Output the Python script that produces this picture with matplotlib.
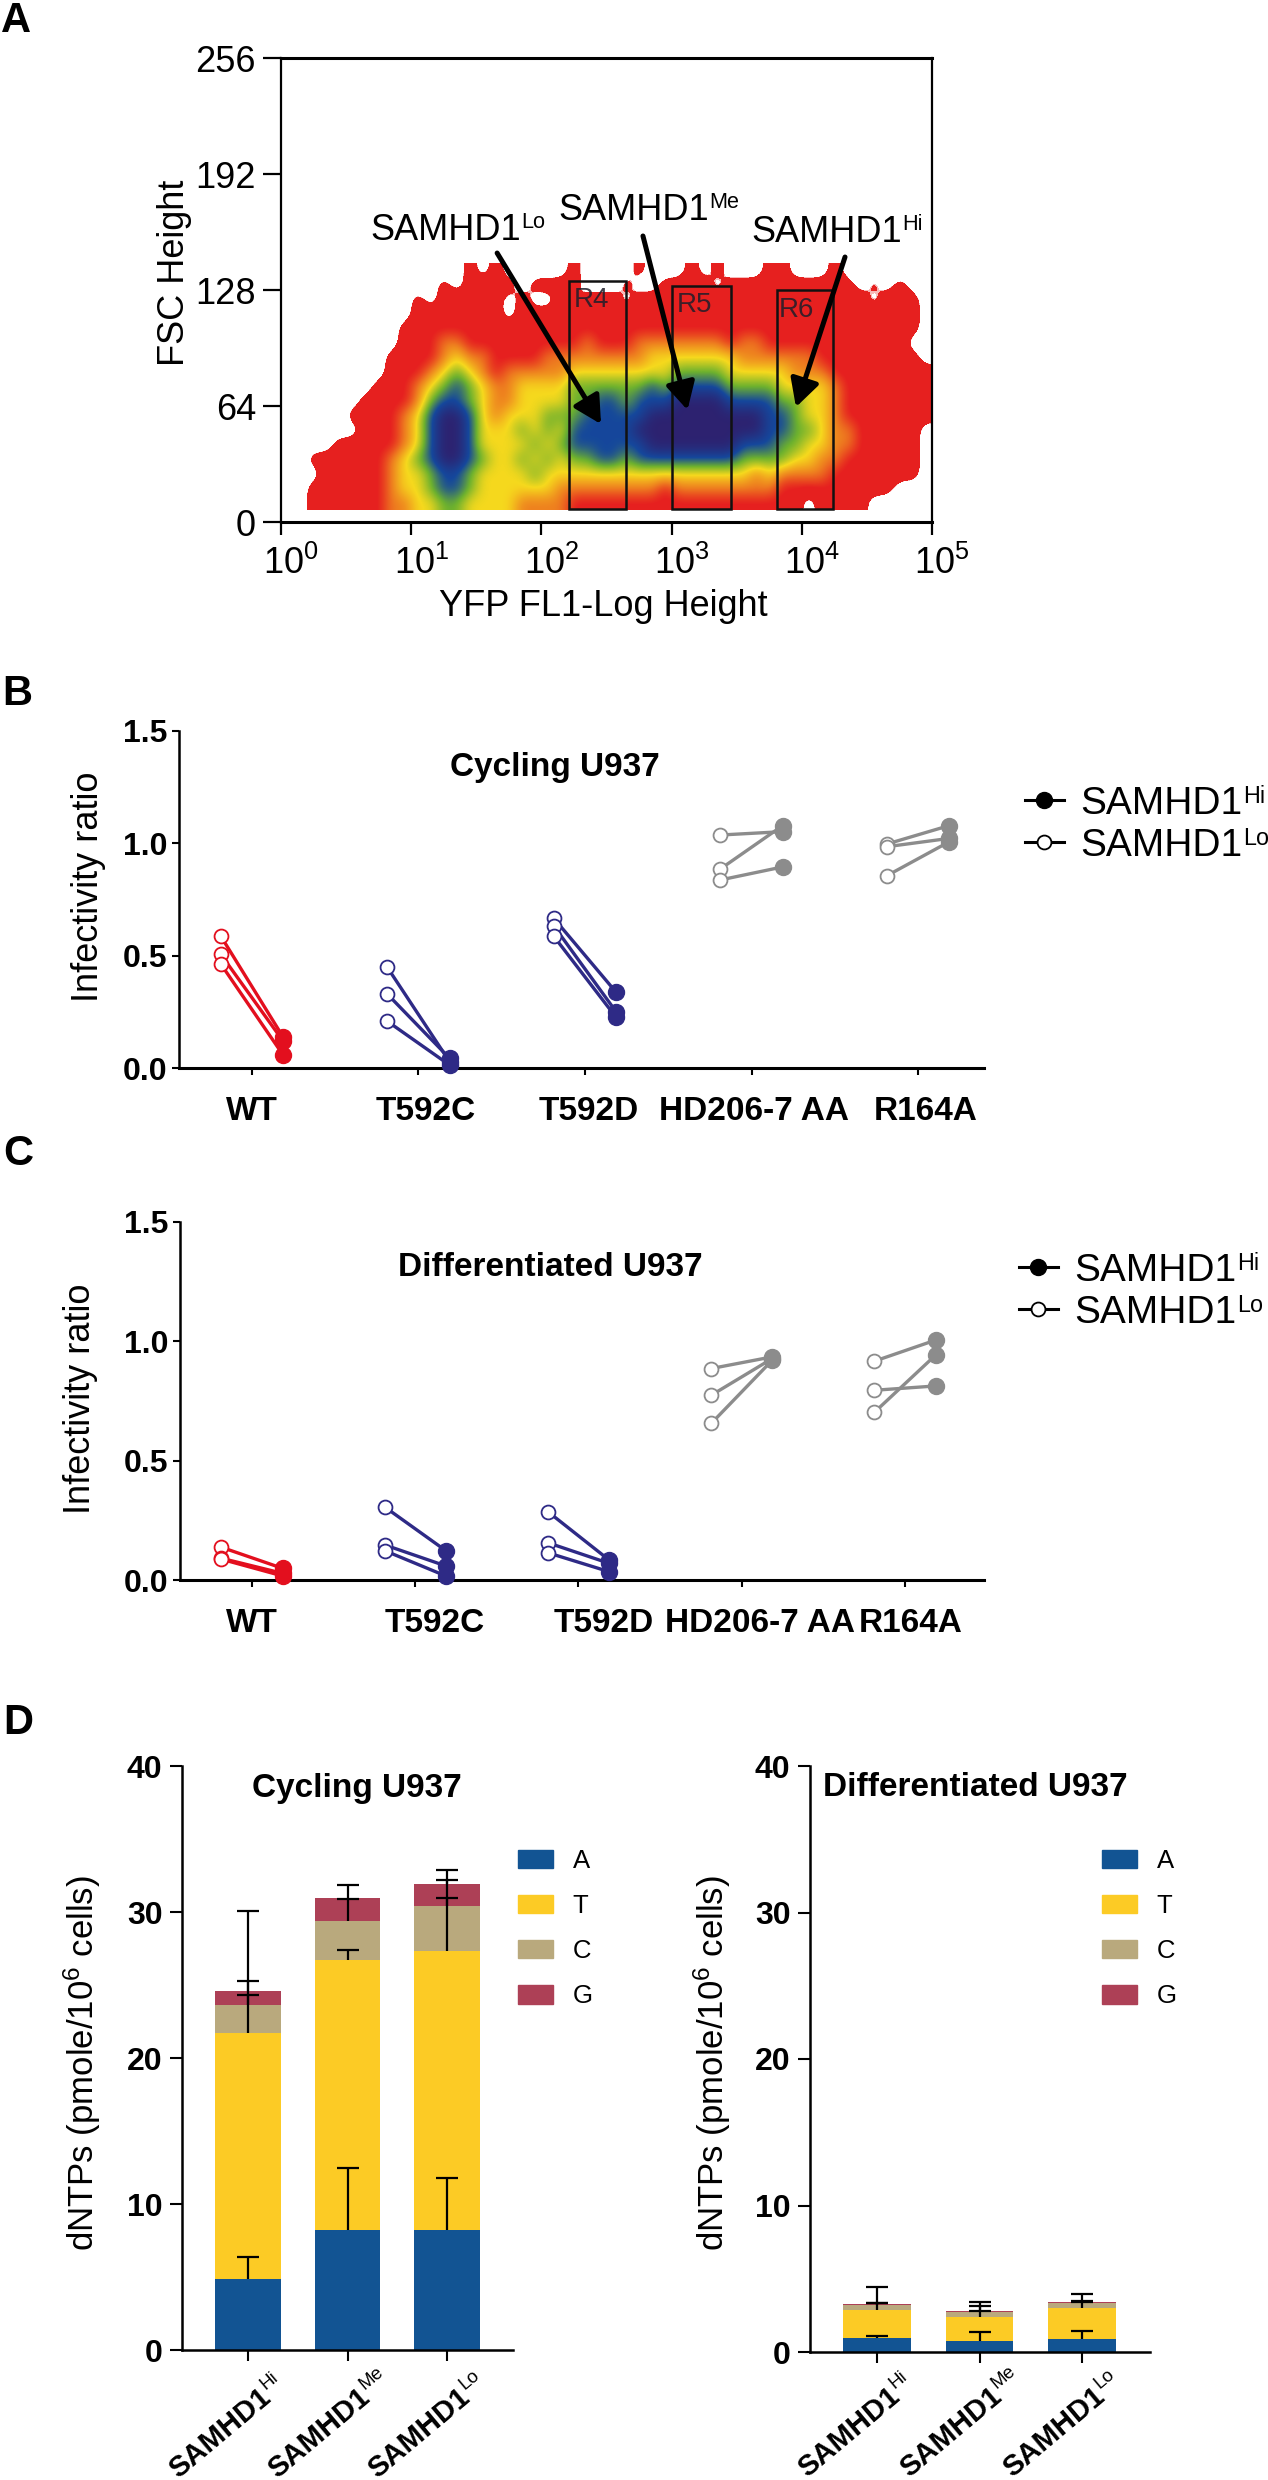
import numpy as np
import matplotlib

matplotlib.use("Agg")
import matplotlib.pyplot as plt
from matplotlib.colors import LinearSegmentedColormap
from matplotlib.lines import Line2D
from matplotlib.patches import Patch, Rectangle
from matplotlib.transforms import ScaledTranslation

W, H = 1268, 2480

plt.rcParams["font.family"] = ["Liberation Sans", "DejaVu Sans"]
plt.rcParams["mathtext.fontset"] = "custom"
plt.rcParams["mathtext.rm"] = "Liberation Sans"
plt.rcParams["mathtext.it"] = "Liberation Sans:italic"
plt.rcParams["mathtext.bf"] = "Liberation Sans:bold"

# panel A: density level per cell, read off by eye (0 empty .. 6 densest)
# columns are 0.1 decade wide, rows 8 FSC units tall, top row first
density_rows = [
    "0000000000000010100000100" "0010001010001100010000000",
    "0000000000001011110111100" "0100111101111111111010100",
    "0000000000101111101001011" "1011111111111111111101110",
    "0000000000111111101111111" "1111111111111111111111110",
    "0000000001111111111111111" "1111111111111111111111110",
    "0000000001112211111111121" "1122222221221111111111100",
    "0000000011112322111122222" "2223333333222222111111110",
    "0000000011123432122222333" "3333344443333322211111111",
    "0000000111234543223333444" "4445455554444333321111111",
    "0000001111245543223333445" "5455566665555443321111111",
    "0000011112356653233344455" "5556666666665543321111111",
    "0000001112356653334343555" "5566666666665544322111110",
    "0000111112356653333434555" "5556666666555443322111110",
    "0011111123456654334343445" "5455555555444433221111110",
    "0001111123345543333433333" "3333333333323222211111110",
    "0011111123345543333332222" "2222122222222111111111000",
    "0011111122334433332222111" "1111111111111110111100000",
]
density_fsc_bottom = 6.6
density_fsc_step = 8
gates = [("R4", 2.215, 2.646, 133), ("R5", 3.0, 3.455, 130), ("R6", 3.81, 4.24, 128)]
gate_bottom = 7
gate_labels = [(2.245, 122.5), (3.04, 120), (3.825, 117)]
fsc_ticks = [0, 64, 128, 192, 256]
yfp_ticks = [0, 1, 2, 3, 4, 5]

# panels B and C
mutants = ["WT", "T592C", "T592D", "HD206-7 AA", "R164A"]
mutant_colors = ["#E30F1E", "#2E2A86", "#2E2A86", "#8C8C8C", "#8C8C8C"]
cycling_lo = [
    [0.587, 0.506, 0.463],
    [0.448, 0.329, 0.208],
    [0.666, 0.632, 0.586],
    [1.037, 0.886, 0.837],
    [0.997, 0.985, 0.856],
]
cycling_hi = [
    [0.138, 0.120, 0.058],
    [0.028, 0.043, 0.013],
    [0.337, 0.250, 0.225],
    [1.052, 1.079, 0.895],
    [1.079, 1.022, 1.007],
]
diff_lo = [
    [0.137, 0.091, 0.087],
    [0.306, 0.147, 0.123],
    [0.286, 0.156, 0.114],
    [0.886, 0.774, 0.656],
    [0.917, 0.795, 0.703],
]
diff_hi = [
    [0.049, 0.028, 0.017],
    [0.123, 0.059, 0.017],
    [0.084, 0.070, 0.035],
    [0.935, 0.928, 0.921],
    [1.005, 0.813, 0.942],
]

# panel D
samhd1_groups = ["Hi", "Me", "Lo"]
dntp_names = ["A", "T", "C", "G"]
dntp_colors = ["#125493", "#FCCB25", "#B9A97D", "#AD4056"]
cycling_dntp = [[4.87, 8.25, 8.20], [16.87, 18.43, 19.10], [1.86, 2.69, 3.10], [1.0, 1.57, 1.50]]
cycling_err_top = [[6.34, 12.44, 11.80], [24.30, 27.40, 30.94], [30.10, 30.87, 32.20], [25.25, 31.86, 32.90]]
diff_dntp = [[0.98, 0.78, 0.92], [1.91, 1.63, 2.07], [0.30, 0.34, 0.34], [0.07, 0.07, 0.07]]
diff_err_top = [[1.12, 1.39, 1.46], [3.33, 2.82, 3.43], [4.45, 3.12, 3.45], [3.35, 3.43, 3.94]]


def px_axes(fig, left, top, right, bottom):
    return fig.add_axes([left / W, 1 - bottom / H, (right - left) / W, (bottom - top) / H])


def fig_text(fig, x, y, s, **kwargs):
    kwargs.setdefault("va", "center")
    return fig.text(x / W, 1 - y / H, s, **kwargs)


def add_sup(fig, base, sup, ratio=0.6):
    bb = base.get_window_extent(fig.canvas.get_renderer())
    fig.text((bb.x1 + 1) / W, (bb.y1 + 1) / H, sup, va="top", ha="left", fontsize=base.get_fontsize() * ratio)


def nudge_labels(fig, labels, offsets):
    for lab, dx in zip(labels, offsets):
        shift = ScaledTranslation(dx / fig.dpi, 0, fig.dpi_scale_trans)
        lab.set_transform(lab.get_transform() + shift)


def draw_density(fig):
    ax = px_axes(fig, 281, 58, 932, 522)
    grid = np.array([[int(c) for c in row] for row in density_rows], dtype=float)
    cmap = LinearSegmentedColormap.from_list(
        "facs",
        [
            (0.0, "#FFFFFF"),
            (0.49 / 6, "#FFFFFF"),
            (0.5 / 6, "#E6201F"),
            (1.1 / 6, "#E6201F"),
            (2 / 6, "#EE7F1F"),
            (3 / 6, "#F6D91D"),
            (4 / 6, "#6DB12E"),
            (5 / 6, "#15479C"),
            (1.0, "#2D2270"),
        ],
        N=512,
    )
    top = density_fsc_bottom + density_fsc_step * len(density_rows)
    ax.imshow(grid, cmap=cmap, vmin=0, vmax=6, aspect="auto", interpolation="bicubic",
              extent=(0, 5, density_fsc_bottom, top), zorder=1)
    ax.set_xlim(0, 5)
    ax.set_ylim(0, 256)

    for (name, x0, x1, fsc_top), (tx, ty) in zip(gates, gate_labels):
        ax.add_patch(Rectangle((x0, gate_bottom), x1 - x0, fsc_top - gate_bottom, fill=False,
                               edgecolor="#111111", linewidth=1.8, zorder=3))
        ax.text(tx, ty, name, fontsize=20, color="#1E1E2A", va="center", alpha=0.85, zorder=3)

    ax.set_xticks(yfp_ticks)
    ax.set_xticklabels([rf"$\mathregular{{10^{{{t}}}}}$" for t in yfp_ticks], fontsize=26)
    ax.set_yticks(fsc_ticks)
    ax.tick_params(axis="y", labelsize=26, length=13, width=1.6, pad=5)
    ax.tick_params(axis="x", length=9, width=1.6, pad=8)
    nudge_labels(fig, ax.get_xticklabels(), [10] * 6)
    for name, spine in ax.spines.items():
        spine.set_linewidth(2.2 if name in ("top", "bottom") else 1.6)

    arrows = [((1.66, 148.4), (2.458, 54)), ((2.78, 157.8), (3.122, 61.8)), ((4.332, 146.2), (3.955, 63.4))]
    for start, tip in arrows:
        ax.annotate("", xy=tip, xytext=start, zorder=4,
                    arrowprops=dict(arrowstyle="-|>,head_length=0.75,head_width=0.4", color="black",
                                    lw=3.6, shrinkA=0, shrinkB=0, mutation_scale=22))

    for x, y, sup in [(370, 231, "Lo"), (558, 211, "Me"), (751, 233, "Hi")]:
        add_sup(fig, fig_text(fig, x, y, "SAMHD1", fontsize=26), sup)
    fig_text(fig, 175, 273, "FSC Height", fontsize=26, rotation=90, ha="center")
    fig_text(fig, 603, 606, "YFP FL1-Log Height", fontsize=26, ha="center")


def draw_pairs(fig, rect, lo, hi, title, title_xy, label_xy, label_offsets, legend_xy, xlim):
    ax = px_axes(fig, *rect)
    offset = 0.187
    for i, color in enumerate(mutant_colors):
        for a, b in zip(lo[i], hi[i]):
            ax.plot([i - offset, i + offset], [a, b], color=color, lw=2.4, zorder=2, clip_on=False)
            ax.plot(i + offset, b, "o", color=color, ms=11.5, zorder=3, clip_on=False)
            ax.plot(i - offset, a, "o", mfc="white", mec=color, mew=1.3, ms=10, zorder=3, clip_on=False)
    ax.set_xlim(*xlim)
    ax.set_ylim(0, 1.5)
    ax.set_yticks([0, 0.5, 1.0, 1.5])
    ax.set_yticklabels(["0.0", "0.5", "1.0", "1.5"], fontsize=23, fontweight="bold")
    ax.set_xticks(range(len(mutants)))
    ax.set_xticklabels(mutants, fontsize=24, fontweight="bold")
    ax.tick_params(axis="both", length=5, width=1.5)
    ax.tick_params(axis="x", pad=15)
    nudge_labels(fig, ax.get_xticklabels(), label_offsets)
    ax.spines["top"].set_visible(False)
    ax.spines["right"].set_visible(False)
    ax.spines["left"].set_linewidth(1.8)
    ax.spines["bottom"].set_linewidth(2.2)

    fig_text(fig, title_xy[0], title_xy[1], title, fontsize=24, fontweight="bold", ha="center")
    fig_text(fig, label_xy[0], label_xy[1], "Infectivity ratio", fontsize=26, rotation=90, ha="center")
    handles = [
        Line2D([], [], color="black", lw=2.2, marker="o", ms=11.5),
        Line2D([], [], color="black", lw=2.2, marker="o", ms=10, mfc="white", mew=1.3),
    ]
    leg = fig.legend(handles, ["SAMHD1", "SAMHD1"], frameon=False, fontsize=28, loc="upper left",
                     bbox_to_anchor=(legend_xy[0] / W, 1 - legend_xy[1] / H), borderpad=0, borderaxespad=0,
                     handlelength=1.0, handletextpad=0.42, labelspacing=0.15)
    fig.canvas.draw()
    for text, sup in zip(leg.get_texts(), ["Hi", "Lo"]):
        add_sup(fig, text, sup)


def draw_stack(fig, rect, ticks, values, err_top, title, title_x, label_x, legend_xy, label_pad):
    ax = px_axes(fig, *rect)
    x = np.arange(len(samhd1_groups))
    bottom = np.zeros(len(x))
    for name, color, vals, tops in zip(dntp_names, dntp_colors, values, err_top):
        vals = np.array(vals)
        ax.bar(x, vals, width=0.663, bottom=bottom, color=color, label=name, zorder=2)
        upper = bottom + vals
        err = np.clip(np.array(tops) - upper, 0, None)
        caps = ax.errorbar(x, upper, yerr=[np.zeros(len(x)), err], fmt="none", ecolor="black",
                           elinewidth=1.6, capsize=7.6, capthick=1.6, zorder=4)[1]
        caps[0].set_visible(False)
        bottom = upper
    step = (ticks[2] - ticks[0]) / 2
    ax.set_xlim((rect[0] - ticks[0]) / step, (rect[2] - ticks[0]) / step)
    ax.set_ylim(0, 40)
    ax.set_yticks([0, 10, 20, 30, 40])
    ax.set_yticklabels(["0", "10", "20", "30", "40"], fontsize=23, fontweight="bold")
    ax.set_xticks(x)
    ax.set_xticklabels(["SAMHD1"] * 3, fontsize=21, fontweight="bold",
                       rotation=40, ha="right", rotation_mode="anchor")
    ax.tick_params(axis="y", length=9, width=1.5, pad=5)
    ax.tick_params(axis="x", length=8, width=1.5, pad=label_pad)
    nudge_labels(fig, ax.get_xticklabels(), [10] * 3)
    for xi, group in zip(x, samhd1_groups):
        ax.annotate(group, xy=(xi, 0), xycoords=ax.get_xaxis_transform(), xytext=(6.5, -5.8 - label_pad),
                    textcoords="offset points", fontsize=13.5, rotation=40, ha="left", va="top",
                    rotation_mode="anchor", annotation_clip=False)
    ax.spines["top"].set_visible(False)
    ax.spines["right"].set_visible(False)
    ax.spines["left"].set_linewidth(1.8)
    ax.spines["bottom"].set_linewidth(1.8)

    fig_text(fig, title_x, 1788, title, fontsize=24, fontweight="bold", ha="center")
    fig_text(fig, label_x, 2063, r"dNTPs (pmole/10$\mathregular{^{6}}$ cells)", fontsize=25, rotation=90, ha="center")
    handles = [Patch(color=c) for c in dntp_colors]
    fig.legend(handles, dntp_names, frameon=False, fontsize=18.5, loc="upper left",
               bbox_to_anchor=(legend_xy[0] / W, 1 - legend_xy[1] / H), borderpad=0, borderaxespad=0,
               handlelength=1.36, handleheight=0.74, handletextpad=0.76, labelspacing=0.82)


def main():
    fig = plt.figure(figsize=(W / 100, H / 100), dpi=100, facecolor="white")

    draw_density(fig)
    draw_pairs(fig, (179, 731, 984, 1068), cycling_lo, cycling_hi, "Cycling U937", (555, 767), (89, 887),
               [0, 7, 4, 2, 8], (1025, 786), (-0.438, 4.396))
    draw_pairs(fig, (180, 1222, 984, 1580), diff_lo, diff_hi, "Differentiated U937", (550, 1267), (81, 1399),
               [0, 19, 25, 18, 6], (1019, 1253), (-0.441, 4.484))
    draw_stack(fig, (182, 1766, 513, 2350), (248, 347, 447), cycling_dntp, cycling_err_top,
               "Cycling U937", 357, 82, (518, 1849), 15.5)
    draw_stack(fig, (810, 1766, 1150, 2352), (877, 980, 1082), diff_dntp, diff_err_top,
               "Differentiated U937", 975, 712, (1102, 1849), 14)

    for letter, x, y in [("A", 1, 21), ("B", 2, 694), ("C", 3, 1154), ("D", 3, 1723)]:
        fig_text(fig, x, y, letter, fontsize=30, fontweight="bold")

    fig.savefig("out.png", dpi=100)
    plt.close(fig)


if __name__ == "__main__":
    main()
